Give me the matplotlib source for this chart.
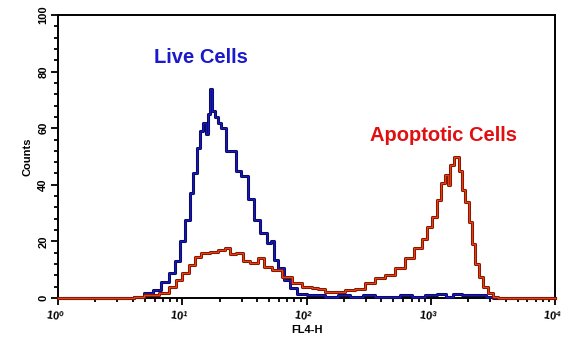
import numpy as np
import matplotlib
matplotlib.use("Agg")
import matplotlib.pyplot as plt
import matplotlib.patheffects as pe
import matplotlib.transforms as mtrans
from matplotlib.ticker import LogLocator, MultipleLocator, FixedLocator

# ---- data (log10 of FL4-H channel, counts) ----
blue_log = [0.0, 0.60, 0.62, 0.66, 0.72, 0.80, 0.86, 0.92, 0.96, 1.00, 1.04, 1.08, 1.10, 1.13,
            1.16, 1.18, 1.20, 1.21, 1.23, 1.25, 1.28, 1.30, 1.33, 1.37, 1.41, 1.45, 1.50,
            1.55, 1.60, 1.65, 1.71, 1.72, 1.75, 1.79, 1.84, 1.89, 1.95, 2.05, 2.10, 2.20,
            2.30, 2.40, 2.50, 2.60, 2.70, 2.80, 2.90, 3.00, 3.10, 3.15, 3.20, 3.30, 3.40,
            3.48, 3.52, 4.0]
blue_counts = [0, 0, 0.3, 0.5, 1.7, 2.8, 5.6, 9, 13, 20, 27.5, 37, 44, 53,
               59, 62, 58, 65, 74, 66, 64, 62, 60, 52, 52, 45, 43,
               35, 27.6, 23, 19.5, 20, 13.5, 10.5, 6.5, 3.5, 1.5, 1, 1, 0.5,
               1, 0.3, 1, 0.5, 0.3, 1, 0.5, 1, 1.5, 0.5, 1.5, 1, 1,
               0.5, 0, 0]

red_log = [0.0, 0.60, 0.62, 0.76, 0.86, 0.92, 0.97, 1.02, 1.08, 1.12, 1.18, 1.26, 1.32, 1.36,
           1.41, 1.46, 1.52, 1.57, 1.64, 1.68, 1.76, 1.84, 1.92, 2.00, 2.08, 2.11, 2.19,
           2.27, 2.35, 2.43, 2.51, 2.59, 2.67, 2.75, 2.83, 2.90, 2.95, 2.99, 3.03, 3.07,
           3.10, 3.13, 3.14, 3.17, 3.21, 3.24, 3.26, 3.29, 3.32, 3.34, 3.37, 3.40, 3.44,
           3.48, 3.52, 3.56, 4.0]
red_counts = [0, 0, 0.3, 1, 1.7, 4, 6.4, 9, 11.7, 14.5, 16, 16.3, 17, 17.7,
              15.5, 16, 13, 12.5, 14, 11, 10, 7.4, 5.3, 3.8, 3.5, 3.2, 2.1,
              2.1, 2.8, 3.2, 5.3, 7, 8, 10.6, 14, 17.5, 21, 25, 28.6, 34.6,
              40.6, 43.5, 40, 47, 50, 45, 38, 34, 27, 19, 12, 7.4, 3.9,
              1.8, 0.3, 0, 0]

x_ticks = [1, 10, 100, 1000, 10000]
x_tick_labels = [r"$\mathbf{10^0}$", r"$\mathbf{10^1}$", r"$\mathbf{10^2}$",
                 r"$\mathbf{10^3}$", r"$\mathbf{10^4}$"]
y_ticks = [0, 20, 40, 60, 80, 100]

plt.rcParams['font.family'] = ['Liberation Sans', 'DejaVu Sans']
plt.rcParams['mathtext.fontset'] = 'custom'
plt.rcParams['mathtext.rm'] = 'Liberation Sans'
plt.rcParams['mathtext.it'] = 'Liberation Sans'
plt.rcParams['mathtext.bf'] = 'Liberation Sans:bold'

fig = plt.figure(figsize=(5.86, 3.39), dpi=100)
ax = fig.add_axes([58/586, 1 - 298/339, (555-58)/586, (298-15)/339])

bx = 10 ** np.array(blue_log)
rx = 10 ** np.array(red_log)

ax.step(bx, blue_counts, where='mid', color='#1818c0', lw=1.0, zorder=3, clip_on=False,
        path_effects=[pe.Stroke(linewidth=2.2, foreground='#0a0a50'), pe.Normal()])
ax.step(rx, red_counts, where='mid', color='#e84010', lw=1.0, zorder=4, clip_on=False,
        path_effects=[pe.Stroke(linewidth=2.2, foreground='#701000'), pe.Normal()])

ax.set_xscale('log')
ax.set_xlim(1, 10000)
ax.set_ylim(0, 100)

ax.xaxis.set_major_locator(FixedLocator(x_ticks))
ax.set_xticklabels(x_tick_labels)
ax.xaxis.set_minor_locator(LogLocator(base=10, subs=np.arange(2, 10)))
ax.xaxis.set_minor_formatter(matplotlib.ticker.NullFormatter())
ax.yaxis.set_major_locator(FixedLocator(y_ticks))
ax.set_yticklabels([str(v) for v in y_ticks], rotation=90, va='center')
ax.yaxis.set_minor_locator(MultipleLocator(4))

ax.tick_params(axis='both', which='major', direction='out', length=5, width=1.3,
               labelsize=8, pad=2, color='black')
ax.tick_params(axis='both', which='minor', direction='out', length=3, width=1.3,
               color='black')
shift = mtrans.ScaledTranslation(-3/100, 0, fig.dpi_scale_trans)
for lbl in ax.get_xticklabels():
    lbl.set_rotation(-8)
    lbl.set_transform(lbl.get_transform() + shift)
for lbl in ax.get_yticklabels():
    lbl.set_fontweight('bold')

for s in ax.spines.values():
    s.set_linewidth(1.4)
    s.set_color('black')

ax.set_xlabel('FL4-H', fontsize=8, fontweight='bold', labelpad=1)
ax.set_ylabel('Counts', fontsize=8, fontweight='bold', labelpad=4)

ax.text(0.287, 0.85, 'Live Cells', transform=ax.transAxes, ha='center', va='center',
        fontsize=14.5, fontweight='bold', color='#1a1acc')
ax.text(0.775, 0.575, 'Apoptotic Cells', transform=ax.transAxes, ha='center', va='center',
        fontsize=14.5, fontweight='bold', color='#e01010')

fig.savefig('out.png', dpi=100)
